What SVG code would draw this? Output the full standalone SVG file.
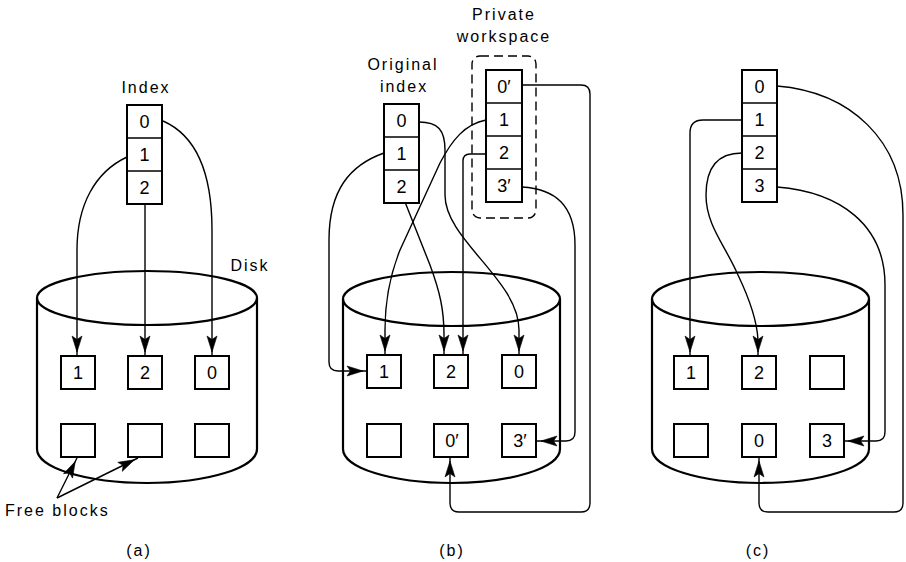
<svg xmlns="http://www.w3.org/2000/svg" width="906" height="562" viewBox="0 0 906 562">
<style>
text{font-family:"Liberation Sans",Arial,sans-serif;fill:#000}
.lbl{font-size:16px;letter-spacing:2px;text-anchor:middle}
.dig{font-size:18px;text-anchor:middle}
.box{fill:#fff;stroke:#000;stroke-width:2}
.div{stroke:#000;stroke-width:1.6}
.cyl{fill:none;stroke:#000;stroke-width:2.2}
.con{fill:none;stroke:#000;stroke-width:1.4}
.arr{marker-end:url(#ah)}
.dash{fill:none;stroke:#000;stroke-width:1.4;stroke-dasharray:9 5}
</style>
<defs>
<marker id="ah" markerUnits="userSpaceOnUse" markerWidth="22" markerHeight="11" refX="20" refY="5" orient="auto" overflow="visible">
<path d="M0,0 L16,5 L0,10 L3.5,5 z" fill="#000" stroke="#000" stroke-width="0.6" stroke-linejoin="miter"/>
</marker>
</defs>
<rect width="906" height="562" fill="#fff"/>

<!-- Disks -->
<g id="disk-a">
<ellipse class="cyl" cx="147" cy="298" rx="110" ry="27"/>
<path class="cyl" d="M37,298 L37,449 A110,34 0 0 0 257,449 L257,298"/>
<text class="lbl" x="250" y="271">Disk</text>
</g>
<g id="disk-b">
<ellipse class="cyl" cx="451.5" cy="299" rx="108.5" ry="27"/>
<path class="cyl" d="M343,299 L343,449 A108.5,34 0 0 0 560,449 L560,299"/>
</g>
<g id="disk-c">
<ellipse class="cyl" cx="760.5" cy="299" rx="108.5" ry="27"/>
<path class="cyl" d="M652,299 L652,449 A108.5,34 0 0 0 869,449 L869,299"/>
</g>

<!-- Connectors -->
<g id="connectors">
<!-- (a) -->
<path class="con arr" d="M127,157 C95,172 77,205 77,250 L77,356"/>
<path class="con arr" d="M145,203 L145,356"/>
<path class="con arr" d="M163,121 C195,135 212,170 212,230 L212,356"/>
<path class="con arr" d="M57,498 L77,458"/>
<path class="con arr" d="M57,498 L138,458"/>
<!-- (b) -->
<path class="con arr" d="M384,153 C350,165 329,190 329,240 L329,362 Q329,371 338,371 L367,371"/>
<path class="con arr" d="M419,122 C438,122 445,130 445,150 L445,195 C445,240 519,280 519,330 L519,355"/>
<path class="con arr" d="M405,202 L430,265 C440,292 444,310 444,335 L444,355"/>
<path class="con arr" d="M486,120 C465,124 452,140 440,163 L400,250 C390,275 385,300 385,330 L385,355"/>
<path class="con arr" d="M486,154 L470,154 Q463,154 463,161 L463,355"/>
<path class="con arr" d="M522,187 C555,189 575,205 575,245 L575,432 Q575,441 566,441 L537,441"/>
<path class="con arr" d="M522,85 L581,85 Q590,85 590,94 L590,503 Q590,512 581,512 L459,512 Q450,512 450,503 L450,457"/>
<!-- (c) -->
<path class="con arr" d="M742,120 L703,120 Q690,120 690,133 L690,356"/>
<path class="con arr" d="M742,153 C720,153 706,165 706,195 C706,225 725,245 738,275 C750,300 757,320 758,340 L758,356"/>
<path class="con arr" d="M777,187 C840,192 885,225 885,285 L885,432 Q885,441 876,441 L844,441"/>
<path class="con arr" d="M777,86 C850,92 903,140 903,215 L903,503 Q903,512 894,512 L768,512 Q759,512 759,503 L759,457"/>
</g>

<!-- (a) nodes -->
<g id="index-a">
<text class="lbl" x="146" y="93">Index</text>
<rect class="box" x="127" y="105" width="35" height="99"/>
<line class="div" x1="127" y1="138" x2="162" y2="138"/>
<line class="div" x1="127" y1="171" x2="162" y2="171"/>
<text class="dig" x="144.5" y="128">0</text>
<text class="dig" x="144.5" y="161">1</text>
<text class="dig" x="144.5" y="194">2</text>
</g>
<g id="blocks-a">
<rect class="box" x="61" y="356" width="34" height="33"/><text class="dig" x="78" y="379">1</text>
<rect class="box" x="128" y="356" width="34" height="33"/><text class="dig" x="145" y="379">2</text>
<rect class="box" x="195" y="356" width="34" height="33"/><text class="dig" x="212" y="379">0</text>
<rect class="box" x="61" y="424" width="34" height="33"/>
<rect class="box" x="128" y="424" width="34" height="33"/>
<rect class="box" x="195" y="424" width="34" height="33"/>
</g>
<g id="free-blocks-label">
<text x="5" y="516" style="font-size:16px;letter-spacing:2px">Free blocks</text>
</g>
<text class="lbl" x="139" y="556">(a)</text>

<!-- (b) nodes -->
<g id="original-index-b">
<text class="lbl" x="403" y="70">Original</text>
<text class="lbl" x="404" y="92">index</text>
<rect class="box" x="384" y="104" width="35" height="99"/>
<line class="div" x1="384" y1="137" x2="419" y2="137"/>
<line class="div" x1="384" y1="170" x2="419" y2="170"/>
<text class="dig" x="401.5" y="127">0</text>
<text class="dig" x="401.5" y="160">1</text>
<text class="dig" x="401.5" y="193">2</text>
</g>
<g id="private-workspace-b">
<text class="lbl" x="504" y="20">Private</text>
<text class="lbl" x="504" y="42">workspace</text>
<rect class="dash" x="472" y="56" width="64" height="162" rx="8"/>
<rect class="box" x="486" y="70" width="36" height="132"/>
<line class="div" x1="486" y1="103" x2="522" y2="103"/>
<line class="div" x1="486" y1="136" x2="522" y2="136"/>
<line class="div" x1="486" y1="169" x2="522" y2="169"/>
<text class="dig" x="504" y="93">0′</text>
<text class="dig" x="504" y="126">1</text>
<text class="dig" x="504" y="159">2</text>
<text class="dig" x="504" y="192">3′</text>
</g>
<g id="blocks-b">
<rect class="box" x="367" y="355" width="34" height="33"/><text class="dig" x="384" y="378">1</text>
<rect class="box" x="434" y="355" width="34" height="33"/><text class="dig" x="451" y="378">2</text>
<rect class="box" x="502" y="355" width="34" height="33"/><text class="dig" x="519" y="378">0</text>
<rect class="box" x="367" y="424" width="34" height="33"/>
<rect class="box" x="434" y="424" width="34" height="33"/><text class="dig" x="452" y="447">0′</text>
<rect class="box" x="502" y="424" width="34" height="33"/><text class="dig" x="520" y="447">3′</text>
</g>
<text class="lbl" x="452" y="556">(b)</text>

<!-- (c) nodes -->
<g id="index-c">
<rect class="box" x="742" y="70" width="35" height="132"/>
<line class="div" x1="742" y1="103" x2="777" y2="103"/>
<line class="div" x1="742" y1="136" x2="777" y2="136"/>
<line class="div" x1="742" y1="169" x2="777" y2="169"/>
<text class="dig" x="759.5" y="93">0</text>
<text class="dig" x="759.5" y="126">1</text>
<text class="dig" x="759.5" y="159">2</text>
<text class="dig" x="759.5" y="192">3</text>
</g>
<g id="blocks-c">
<rect class="box" x="674" y="356" width="34" height="33"/><text class="dig" x="691" y="379">1</text>
<rect class="box" x="742" y="356" width="34" height="33"/><text class="dig" x="759" y="379">2</text>
<rect class="box" x="810" y="356" width="34" height="33"/>
<rect class="box" x="674" y="424" width="34" height="33"/>
<rect class="box" x="742" y="424" width="34" height="33"/><text class="dig" x="759" y="447">0</text>
<rect class="box" x="810" y="424" width="34" height="33"/><text class="dig" x="827" y="447">3</text>
</g>
<text class="lbl" x="758" y="556">(c)</text>
</svg>
